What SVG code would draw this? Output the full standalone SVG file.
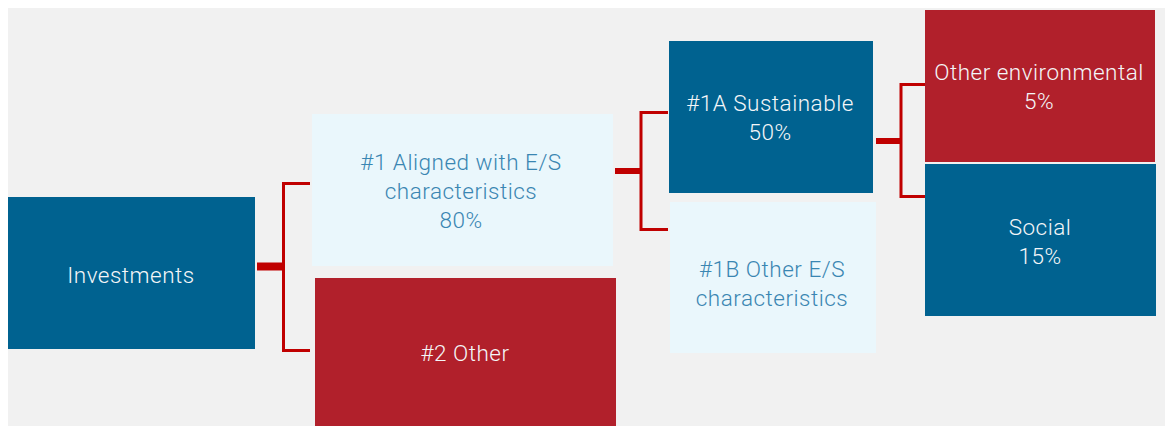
<svg xmlns="http://www.w3.org/2000/svg" width="1166" height="426" viewBox="0 0 1166 426">
<style>
.bg{fill:#f1f1f1}
.blue{fill:#006290}
.red{fill:#b1202b}
.light{fill:#eaf7fc}
text{font-family:Roboto,"Liberation Sans",sans-serif;font-weight:300;font-size:22.5px;letter-spacing:0.5px;text-anchor:middle}
.wt{fill:#f4f6f8}
.bt{fill:#3a86b2}
.br{fill:none;stroke:#c00000;stroke-width:3}
.stub{stroke:#c00000;stroke-width:8}
.stub2{stroke:#c00000;stroke-width:6}
</style>
<rect class="bg" x="8" y="8" width="1157" height="418"/>
<g id="connectors">
<line class="stub" x1="257" y1="266.5" x2="283" y2="266.5"/>
<path class="br" d="M310,183.5 H283.5 V350.5 H310"/>
<line class="stub2" x1="615" y1="171" x2="641" y2="171"/>
<path class="br" d="M668,112.5 H641 V229.5 H668"/>
<line class="stub2" x1="876" y1="141" x2="901" y2="141"/>
<path class="br" d="M925,84.5 H901 V196.5 H925"/>
</g>
<g id="investments">
<rect class="blue" x="8" y="197" width="247" height="152"/>
<text class="wt" x="131" y="283">Investments</text>
</g>
<g id="aligned">
<rect class="light" x="312" y="114" width="301" height="152"/>
<text class="bt" x="461" y="170">#1 Aligned with E/S</text>
<text class="bt" x="461" y="199">characteristics</text>
<text class="bt" x="461" y="228">80%</text>
</g>
<g id="other2">
<rect class="red" x="315" y="278" width="301" height="148"/>
<text class="wt" x="465" y="361">#2 Other</text>
</g>
<g id="sustainable">
<rect class="blue" x="669" y="41" width="204" height="152"/>
<text class="wt" x="770" y="111">#1A Sustainable</text>
<text class="wt" x="770" y="140">50%</text>
</g>
<g id="otheres">
<rect class="light" x="670" y="202" width="206" height="151"/>
<text class="bt" x="772" y="277">#1B Other E/S</text>
<text class="bt" x="772" y="306">characteristics</text>
</g>
<g id="otherenv">
<rect class="red" x="925" y="10" width="230" height="152"/>
<text class="wt" x="1039" y="80">Other environmental</text>
<text class="wt" x="1039" y="109">5%</text>
</g>
<g id="social">
<rect class="blue" x="925" y="164" width="231" height="152"/>
<text class="wt" x="1040" y="235">Social</text>
<text class="wt" x="1040" y="264">15%</text>
</g>
</svg>
